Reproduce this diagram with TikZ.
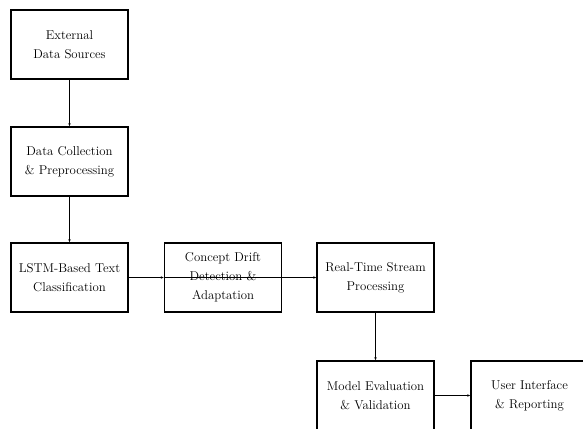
\documentclass[tikz,border=0pt]{standalone}
\usetikzlibrary{arrows.meta}
\begin{document}
\begin{tikzpicture}[x=1pt,y=-1pt,
  blk/.style={draw=black,line width=1.1pt,minimum width=117pt,minimum height=69pt,
    align=center,inner sep=2pt,font=\fontsize{12.8}{19}\selectfont},
  conn/.style={draw=black,line width=0.8pt,-{Latex[length=3pt,width=2.6pt]}}]
\useasboundingbox (0,0) rectangle (583,428);
\fill[white] (0,0) rectangle (583,428);
\begin{scope}
\clip (0,0) rectangle (583,428);
\node[blk] (ext) at (69.5,44.5) {External\\Data Sources};
\node[blk] (dc) at (69.5,161.5) {Data Collection\\\& Preprocessing};
\node[blk] (lstm) at (69.5,277.5) {LSTM-Based Text\\Classification};
\node[blk] (cd) at (223,277.5) {Concept Drift\\Detection \&\\Adaptation};
\node[blk] (rt) at (375.5,277.5) {Real-Time Stream\\Processing};
\node[blk] (me) at (375.5,395.5) {Model Evaluation\\\& Validation};
\node[blk] (ui) at (529.5,395.5) {User Interface\\\& Reporting};
\draw[conn] (ext) -- (dc);
\draw[conn] (dc) -- (lstm);
\draw[conn] (lstm) -- (cd);
\draw[conn] (cd.west) -- (rt.west);
\draw[conn] (rt) -- (me);
\draw[conn] (me) -- (ui);
\end{scope}
\end{tikzpicture}
\end{document}
